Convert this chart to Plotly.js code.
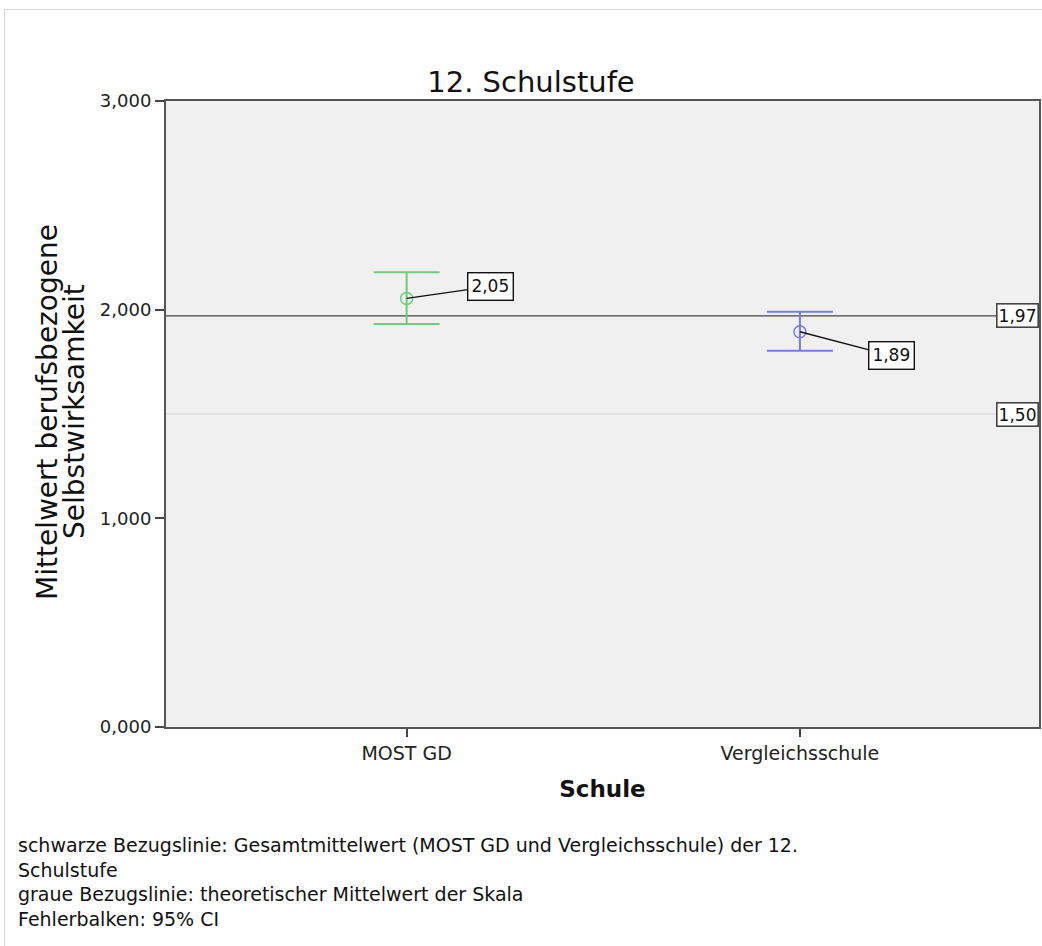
<!DOCTYPE html>
<html>
<head>
<meta charset="utf-8">
<script src="https://cdn.plot.ly/plotly-3.0.1.min.js"></script>
<style>
  html, body { margin: 0; padding: 0; background: #ffffff; }
  #wrap { position: relative; width: 1042px; height: 946px; }
  #chart { width: 1042px; height: 946px; }
  #frame { position: absolute; left: 4px; top: 9px; width: 1060px; height: 960px;
           border-left: 1px solid #d4d4d4; border-top: 1px solid #d4d4d4; pointer-events: none; }
</style>
</head>
<body>
<div id="wrap">
  <div id="chart"></div>
  <div id="frame"></div>
</div>
<script>
// ---- data ----
const categories = ["MOST GD", "Vergleichsschule"];
const means = [2.054, 1.894];
const ciUpper = [2.179, 1.990];
const ciLower = [1.931, 1.803];
const seriesColors = ["#6dcc7e", "#7878f5"];
const refOverall = 1.97;   // Gesamtmittelwert
const refTheory = 1.50;    // theoretischer Mittelwert
const yTickVals = [0, 1, 2, 3];
const yTickText = ["0,000", "1,000", "2,000", "3,000"];
const yTitleLines = ["Mittelwert berufsbezogene", "Selbstwirksamkeit"];
const footnoteLines = [
  "schwarze Bezugslinie: Gesamtmittelwert (MOST GD und Vergleichsschule) der 12.",
  "Schulstufe",
  "graue Bezugslinie: theoretischer Mittelwert der Skala",
  "Fehlerbalken: 95% CI"
];

const fmt = v => v.toFixed(2).replace(".", ",");
const FONT = "DejaVu Sans, Verdana, sans-serif";

// plot area geometry (pixels) used to place paper-referenced text
const PL = 166, PR = 1039, PT = 101, PB = 727;
const px2paperX = px => (px - PL) / (PR - PL);
const px2paperY = py => (PB - py) / (PB - PT);

const xs = categories.map((c, i) => i);
const traces = categories.map((c, i) => ({
  type: "scatter",
  mode: "markers",
  x: [xs[i]],
  y: [means[i]],
  marker: { symbol: "circle-open", size: 12, color: seriesColors[i], line: { width: 1.5 } },
  error_y: {
    type: "data", symmetric: false,
    array: [ciUpper[i] - means[i]],
    arrayminus: [means[i] - ciLower[i]],
    color: seriesColors[i], thickness: 2, width: 33
  },
  showlegend: false,
  hoverinfo: "skip"
}));

const labelOffsets = [[84, -12], [92, 24]];
const annotations = categories.map((c, i) => ({
  x: xs[i], y: means[i], xref: "x", yref: "y",
  text: fmt(means[i]),
  showarrow: true, arrowhead: 0, arrowwidth: 1.4, arrowcolor: "#111111",
  ax: labelOffsets[i][0], ay: labelOffsets[i][1],
  bgcolor: "#ffffff", bordercolor: "#111111", borderwidth: 1.4, borderpad: 3,
  font: { family: FONT, size: 17, color: "#111111" }
}));

[refOverall, refTheory].forEach(v => {
  annotations.push({
    x: 1, xref: "paper", xanchor: "right", y: v, yref: "y", yanchor: "middle",
    text: fmt(v), showarrow: false,
    bgcolor: "#ffffff", bordercolor: "#444444", borderwidth: 1.6, borderpad: 1,
    font: { family: FONT, size: 17, color: "#111111" }
  });
});

// y-axis title, two lines
const yTitleX = [47, 74];
yTitleLines.forEach((t, i) => {
  annotations.push({
    x: px2paperX(yTitleX[i]), xref: "paper", xanchor: "center",
    y: px2paperY(412), yref: "paper", yanchor: "middle",
    text: t, textangle: -90, showarrow: false,
    font: { family: FONT, size: 28, color: "#111111" }
  });
});

// footnote (one text block)
annotations.push({
  x: px2paperX(16), xref: "paper", xanchor: "left",
  y: px2paperY(882), yref: "paper", yanchor: "middle",
  text: footnoteLines.join("<br>"), align: "left", showarrow: false,
  font: { family: FONT, size: 19, color: "#111111" }
});

const shapes = [
  { type: "line", xref: "paper", x0: 0, x1: 1, yref: "y", y0: refTheory, y1: refTheory,
    line: { color: "#d2d2d2", width: 1.2 }, layer: "below" },
  { type: "line", xref: "paper", x0: 0, x1: 1, yref: "y", y0: refOverall, y1: refOverall,
    line: { color: "#444444", width: 1.2 }, layer: "below" }
];

const layout = {
  width: 1042, height: 946,
  margin: { l: PL, r: 1042 - PR, t: PT, b: 946 - PB, pad: 0 },
  paper_bgcolor: "#ffffff",
  plot_bgcolor: "#f0f0f0",
  title: { text: "12. Schulstufe", font: { family: FONT, size: 29, color: "#111111" },
           x: 531 / 1042, xanchor: "center", xref: "container",
           y: 1, yref: "paper", yanchor: "bottom", pad: { b: 9 } },
  xaxis: {
    range: [-0.612, 1.608],
    tickvals: xs, ticktext: categories,
    ticks: "outside", ticklen: 8, tickwidth: 2, tickcolor: "#444444",
    showline: true, linecolor: "#555555", linewidth: 2, mirror: true,
    showgrid: false, zeroline: false,
    tickfont: { family: FONT, size: 19, color: "#222222" },
    title: { text: "<b>Schule</b>", font: { family: FONT, size: 23, color: "#111111" }, standoff: 18 },
    fixedrange: true
  },
  yaxis: {
    range: [0, 3],
    tickvals: yTickVals, ticktext: yTickText,
    ticks: "outside", ticklen: 9, tickwidth: 2, tickcolor: "#444444",
    showline: true, linecolor: "#555555", linewidth: 2, mirror: true,
    showgrid: false, zeroline: false,
    tickfont: { family: FONT, size: 18, color: "#222222" },
    fixedrange: true
  },
  annotations: annotations,
  shapes: shapes
};

Plotly.newPlot("chart", traces, layout, { displayModeBar: false, staticPlot: true });
</script>
</body>
</html>
